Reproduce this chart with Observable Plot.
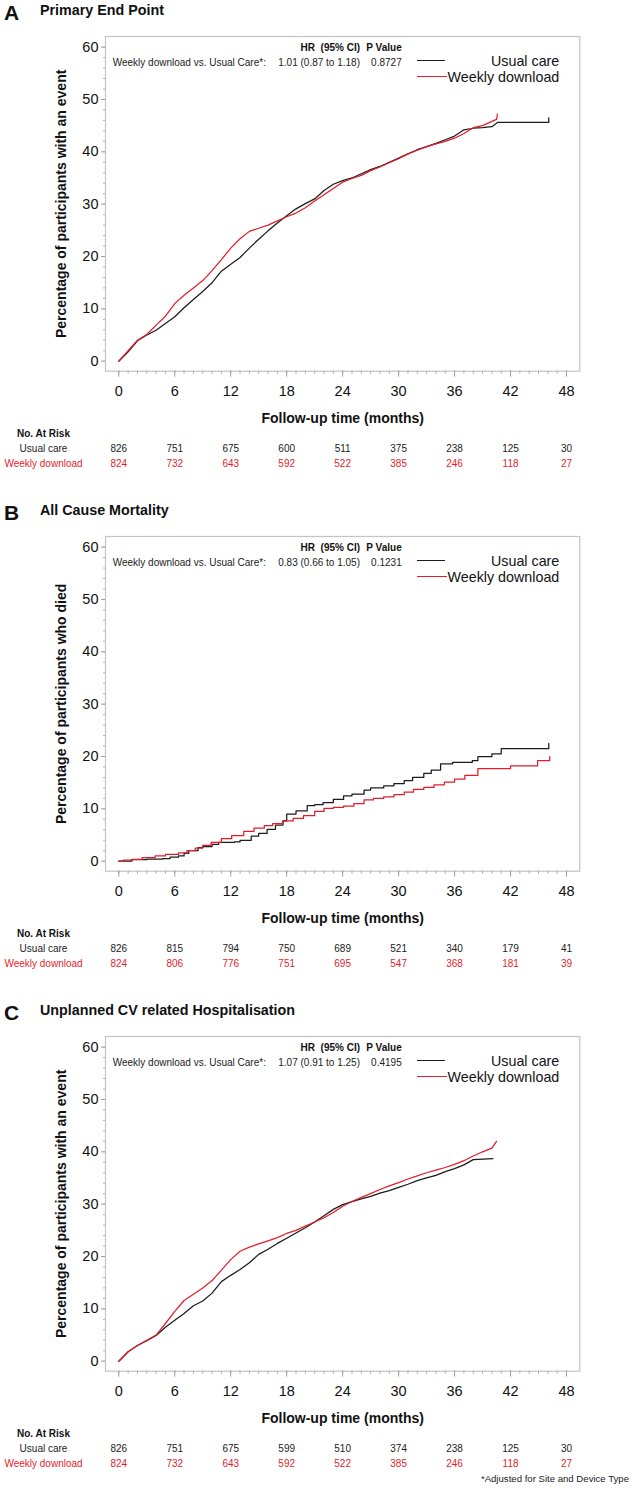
<!DOCTYPE html>
<html>
<head>
<meta charset="utf-8">
<script src="https://cdn.jsdelivr.net/npm/d3@7"></script>
<script src="https://cdn.jsdelivr.net/npm/@observablehq/plot@0.6"></script>
<style>
  html, body { margin: 0; padding: 0; background: #fff; }
  body { width: 633px; height: 1488px; overflow: hidden; font-family: "Liberation Sans", Arial, sans-serif; color: #111; }
  .panel { position: relative; width: 633px; overflow: hidden; }
  .panel svg { position: absolute; left: 0; top: 24px; display: block; }
  .abs { position: absolute; line-height: 1; white-space: pre; }
  .leg { position: absolute; height: 0; }
</style>
</head>
<body>
<div id="root"></div>
<script>
// ---------- shared labels / ticks ----------
const xTicks = [0, 6, 12, 18, 24, 30, 36, 42, 48];
const xMinor = [0,1,2,3,4,5,6,7,8,9,10,11,12,13,14,15,16,17,18,19,20,21,22,23,24,25,26,27,28,29,30,31,32,33,34,35,36,37,38,39,40,41,42,43,44,45,46,47,48];
const yTicks = [0, 10, 20, 30, 40, 50, 60];
const yMinor = [0,2,4,6,8,10,12,14,16,18,20,22,24,26,28,30,32,34,36,38,40,42,44,46,48,50,52,54,56,58,60];
const groups = ["Usual care", "Weekly download"];
const xLabel = "Follow-up time (months)";
const comparison = "Weekly download vs. Usual Care*:";
const footnote = "*Adjusted for Site and Device Type";

// ---------- Panel A: Primary End Point ----------
const aUsual = [[0,0],[1,1.8],[2,3.9],[3,5.0],[4,5.9],[5,7.2],[6,8.5],[7,10.2],[8,11.8],[9,13.3],[10,15.0],[11,17.2],[12,18.5],[13,19.8],[14,21.6],[15,23.3],[16,24.9],[17,26.4],[18,27.8],[19,29.1],[20,30.1],[21,31.0],[22,32.6],[23,33.8],[24,34.5],[25,35.0],[26,35.8],[27,36.6],[28,37.2],[29,38.0],[30,38.8],[31,39.6],[32,40.4],[33,41.0],[34,41.6],[35,42.3],[36,43.0],[37,44.2],[38,44.5],[39,44.6],[40,44.8],[40.6,45.6],[46.1,45.6],[46.1,46.5]];
const aWeekly = [[0,0],[1,2.0],[2,4.0],[3,5.1],[4,6.9],[5,8.6],[6,11.0],[7,12.6],[8,14.0],[9,15.4],[10,17.3],[11,19.4],[12,21.6],[13,23.4],[14,24.8],[15,25.4],[16,26.0],[17,26.8],[18,27.6],[19,28.3],[20,29.3],[21,30.6],[22,31.8],[23,33.0],[24,34.2],[25,34.9],[26,35.5],[27,36.4],[28,37.1],[29,37.9],[30,38.7],[31,39.6],[32,40.3],[33,41.0],[34,41.5],[35,42.0],[36,42.6],[37,43.5],[38,44.6],[39,45.0],[40,45.8],[40.5,46.2],[40.6,47.2]];
const aRiskUsual = [826, 751, 675, 600, 511, 375, 238, 125, 30];
const aRiskWeekly = [824, 732, 643, 592, 522, 385, 246, 118, 27];

// ---------- Panel B: All Cause Mortality ----------
const bUsual = [[0,0],[1.4,0.3],[3,0.4],[4.7,0.5],[5.5,0.8],[6.4,1.0],[7,1.5],[7.5,2.0],[8.5,2.6],[9,2.8],[10,3.2],[10.7,3.6],[12.4,3.7],[13,4.0],[14.2,4.8],[15,5.3],[15.9,6.1],[16.8,6.9],[17.6,7.7],[18,9.0],[19,9.6],[20.2,10.6],[21,10.8],[21.9,11.2],[23,11.8],[24.1,12.5],[25,12.8],[26.3,13.6],[27,14.0],[28.4,14.4],[29.5,14.8],[30.6,15.4],[31.5,16.0],[32.7,16.8],[33.5,17.4],[34.5,18.6],[35.8,18.9],[37.9,19.2],[38.5,20.0],[40,20.5],[41,21.5],[46.1,21.5],[46.1,22.5]];
const bWeekly = [[0,0],[0.5,0.2],[1.4,0.33],[2.5,0.7],[3.9,1.0],[5,1.3],[6.4,1.6],[7.3,2.0],[8.2,2.5],[9,3.0],[9.9,3.6],[11,4.3],[12.1,4.9],[13.4,5.7],[14.5,6.3],[15.6,6.8],[16.5,7.2],[17.6,7.7],[18.7,8.2],[19.8,8.7],[21,9.5],[22,10.1],[23,10.3],[24.1,10.5],[25.2,11.0],[26.3,11.7],[27.3,12.0],[28.4,12.3],[29.5,12.7],[30.6,13.2],[31.6,13.7],[32.7,14.1],[33.8,14.6],[34.9,15.1],[36,15.7],[37.1,16.4],[38.5,17.7],[42,18.2],[44.9,19.2],[46.2,19.2],[46.2,20.0]];
const bRiskUsual = [826, 815, 794, 750, 689, 521, 340, 179, 41];
const bRiskWeekly = [824, 806, 776, 751, 695, 547, 368, 181, 39];

// ---------- Panel C: Unplanned CV related Hospitalisation ----------
const cUsual = [[0,0],[1,1.8],[2,3.0],[3,3.9],[4,4.9],[5,6.5],[6,7.8],[7,9.1],[8,10.6],[9,11.5],[10,13.0],[11,15.2],[12,16.4],[13,17.5],[14,18.8],[15,20.4],[16,21.4],[17,22.5],[18,23.5],[19,24.5],[20,25.5],[21,26.6],[22,27.8],[23,29.0],[24,29.9],[25,30.5],[26,31.0],[27,31.5],[28,32.1],[29,32.6],[30,33.2],[31,33.8],[32,34.5],[33,35.0],[34,35.5],[35,36.2],[36,36.8],[37,37.5],[38,38.5],[40.1,38.7]];
const cWeekly = [[0,0],[1,1.8],[2,3.0],[3,4.0],[4,5.0],[5,7.2],[6,9.5],[7,11.6],[8,12.8],[9,14.0],[10,15.4],[11,17.4],[12,19.4],[13,21.0],[14,21.8],[15,22.4],[16,23.0],[17,23.6],[18,24.4],[19,25.0],[20,25.8],[21,26.6],[22,27.4],[23,28.4],[24,29.6],[25,30.5],[26,31.3],[27,32.0],[28,32.8],[29,33.5],[30,34.1],[31,34.8],[32,35.4],[33,36.0],[34,36.5],[35,37.0],[36,37.6],[37,38.3],[38,39.2],[39,40.0],[40,40.7],[40.5,42.0]];
const cRiskUsual = [826, 751, 675, 599, 510, 374, 238, 125, 30];
const cRiskWeekly = [824, 732, 643, 592, 522, 385, 246, 118, 27];

const panels = [
  {letter: "A", title: "Primary End Point", ylabel: "Percentage of participants with an event",
   hr: "1.01 (0.87 to 1.18)", p: "0.8727", usual: aUsual, weekly: aWeekly, riskU: aRiskUsual, riskW: aRiskWeekly, curve: "linear", h: 500},
  {letter: "B", title: "All Cause Mortality", ylabel: "Percentage of participants who died",
   hr: "0.83 (0.66 to 1.05)", p: "0.1231", usual: bUsual, weekly: bWeekly, riskU: bRiskUsual, riskW: bRiskWeekly, curve: "step-after", h: 500},
  {letter: "C", title: "Unplanned CV related Hospitalisation", ylabel: "Percentage of participants with an event",
   hr: "1.07 (0.91 to 1.25)", p: "0.4195", usual: cUsual, weekly: cWeekly, riskU: cRiskUsual, riskW: cRiskWeekly, curve: "linear", h: 488, foot: true}
];

const BLACK = "#1c1c1c";
const RED = "#e21d2b";
const FONT = "Liberation Sans, Arial, sans-serif";

function abs(parent, text, css) {
  const d = document.createElement("div");
  d.className = "abs";
  d.textContent = text;
  Object.assign(d.style, css);
  parent.appendChild(d);
  return d;
}

const root = document.getElementById("root");

for (const P of panels) {
  const panel = document.createElement("div");
  panel.className = "panel";
  panel.style.height = P.h + "px";
  root.appendChild(panel);

  const H = P.h - 24;
  const frameBottom = 346.7;
  const toRows = (arr) => arr.map(([t, v]) => ({t, v}));
  const riskU = P.riskU.map((n, i) => ({t: xTicks[i], n}));
  const riskW = P.riskW.map((n, i) => ({t: xTicks[i], n}));

  const chart = Plot.plot({
    width: 633,
    height: H,
    marginTop: 12,
    marginLeft: 105,
    marginRight: 53.7,
    marginBottom: H - frameBottom,
    x: {domain: [0, 48], insetLeft: 13.3, insetRight: 13.3},
    y: {domain: [0, 60], insetTop: 10.6, insetBottom: 10},
    style: {fontFamily: FONT, fontSize: "14.5px", color: "#111", background: "transparent", overflow: "visible"},
    marks: [
      Plot.frame({stroke: "#c4c4c4", strokeWidth: 1.2}),
      Plot.axisX(xMinor, {anchor: "bottom", tickSize: 3, stroke: "#a9a9a9", tickFormat: () => "", label: null}),
      Plot.axisX(xTicks, {anchor: "bottom", tickSize: 6, tickPadding: 8.5, stroke: "#a0a0a0", fill: "#111", label: null}),
      Plot.axisY(yMinor, {anchor: "left", tickSize: 2, stroke: "#b4b4b4", tickFormat: () => "", label: null}),
      Plot.axisY(yTicks, {anchor: "left", tickSize: 4, tickPadding: 3, stroke: "#a0a0a0", fill: "#111", label: null}),
      Plot.line(toRows(P.usual), {x: "t", y: "v", stroke: BLACK, strokeWidth: 1.25, curve: P.curve}),
      Plot.line(toRows(P.weekly), {x: "t", y: "v", stroke: RED, strokeWidth: 1.25, curve: P.curve}),
      // y-axis title
      Plot.text([P.ylabel], {text: d => d, frameAnchor: "left", dx: -44, rotate: -90, textAnchor: "middle", fontWeight: "bold", fontSize: 14, lineAnchor: "middle", fill: "#111"}),
      // x-axis title
      Plot.text([xLabel], {text: d => d, frameAnchor: "bottom", dy: 47.6, textAnchor: "middle", fontWeight: "bold", fontSize: 14, lineAnchor: "middle", fill: "#111"}),
      // number-at-risk table
      Plot.text(["No. At Risk"], {text: d => d, frameAnchor: "bottom-left", dx: -62, dy: 62.6, textAnchor: "middle", fontWeight: "bold", fontSize: 10, lineAnchor: "middle", fill: "#111"}),
      Plot.text([groups[0]], {text: d => d, frameAnchor: "bottom-left", dx: -62, dy: 78, textAnchor: "middle", fontSize: 10, lineAnchor: "middle", fill: "#222"}),
      Plot.text([groups[1]], {text: d => d, frameAnchor: "bottom-left", dx: -62, dy: 92.6, textAnchor: "middle", fontSize: 10, lineAnchor: "middle", fill: RED}),
      Plot.text(riskU, {x: "t", text: "n", frameAnchor: "bottom", dy: 78, fontSize: 10, lineAnchor: "middle", fill: "#222"}),
      Plot.text(riskW, {x: "t", text: "n", frameAnchor: "bottom", dy: 92.6, fontSize: 10, lineAnchor: "middle", fill: RED})
    ]
  });
  panel.appendChild(chart);

  // Panel heading
  abs(panel, P.letter, {left: "4px", top: "2.3px", fontSize: "21px", fontWeight: "bold"});
  abs(panel, P.title, {left: "40px", top: "3.1px", fontSize: "14.3px", fontWeight: "bold"});

  // HR table (inside frame, top)
  abs(panel, "HR  (95% CI)", {right: "273px", top: "43.4px", fontSize: "10px", fontWeight: "bold"});
  abs(panel, "P Value", {right: "231.3px", top: "43.4px", fontSize: "10px", fontWeight: "bold"});
  abs(panel, comparison, {left: "112.7px", top: "58.4px", fontSize: "10px", color: "#222"});
  abs(panel, P.hr, {right: "273px", top: "58.4px", fontSize: "10px", color: "#222"});
  abs(panel, P.p, {right: "231.3px", top: "58.4px", fontSize: "10px", color: "#222"});

  // Legend
  const l1 = document.createElement("div");
  l1.className = "leg";
  Object.assign(l1.style, {left: "416.7px", width: "28.3px", top: "59.5px", borderTop: "1.3px solid " + BLACK});
  panel.appendChild(l1);
  const l2 = document.createElement("div");
  l2.className = "leg";
  Object.assign(l2.style, {left: "416.7px", width: "30px", top: "75.8px", borderTop: "1.3px solid " + RED});
  panel.appendChild(l2);
  abs(panel, groups[0], {right: "73.7px", top: "53.7px", fontSize: "14.3px", color: "#111"});
  abs(panel, groups[1], {right: "73.7px", top: "70.3px", fontSize: "14.3px", color: "#111"});

  if (P.foot) {
    abs(panel, footnote, {right: "4px", top: "474.3px", fontSize: "9.6px", color: "#222"});
  }
}
</script>
</body>
</html>
